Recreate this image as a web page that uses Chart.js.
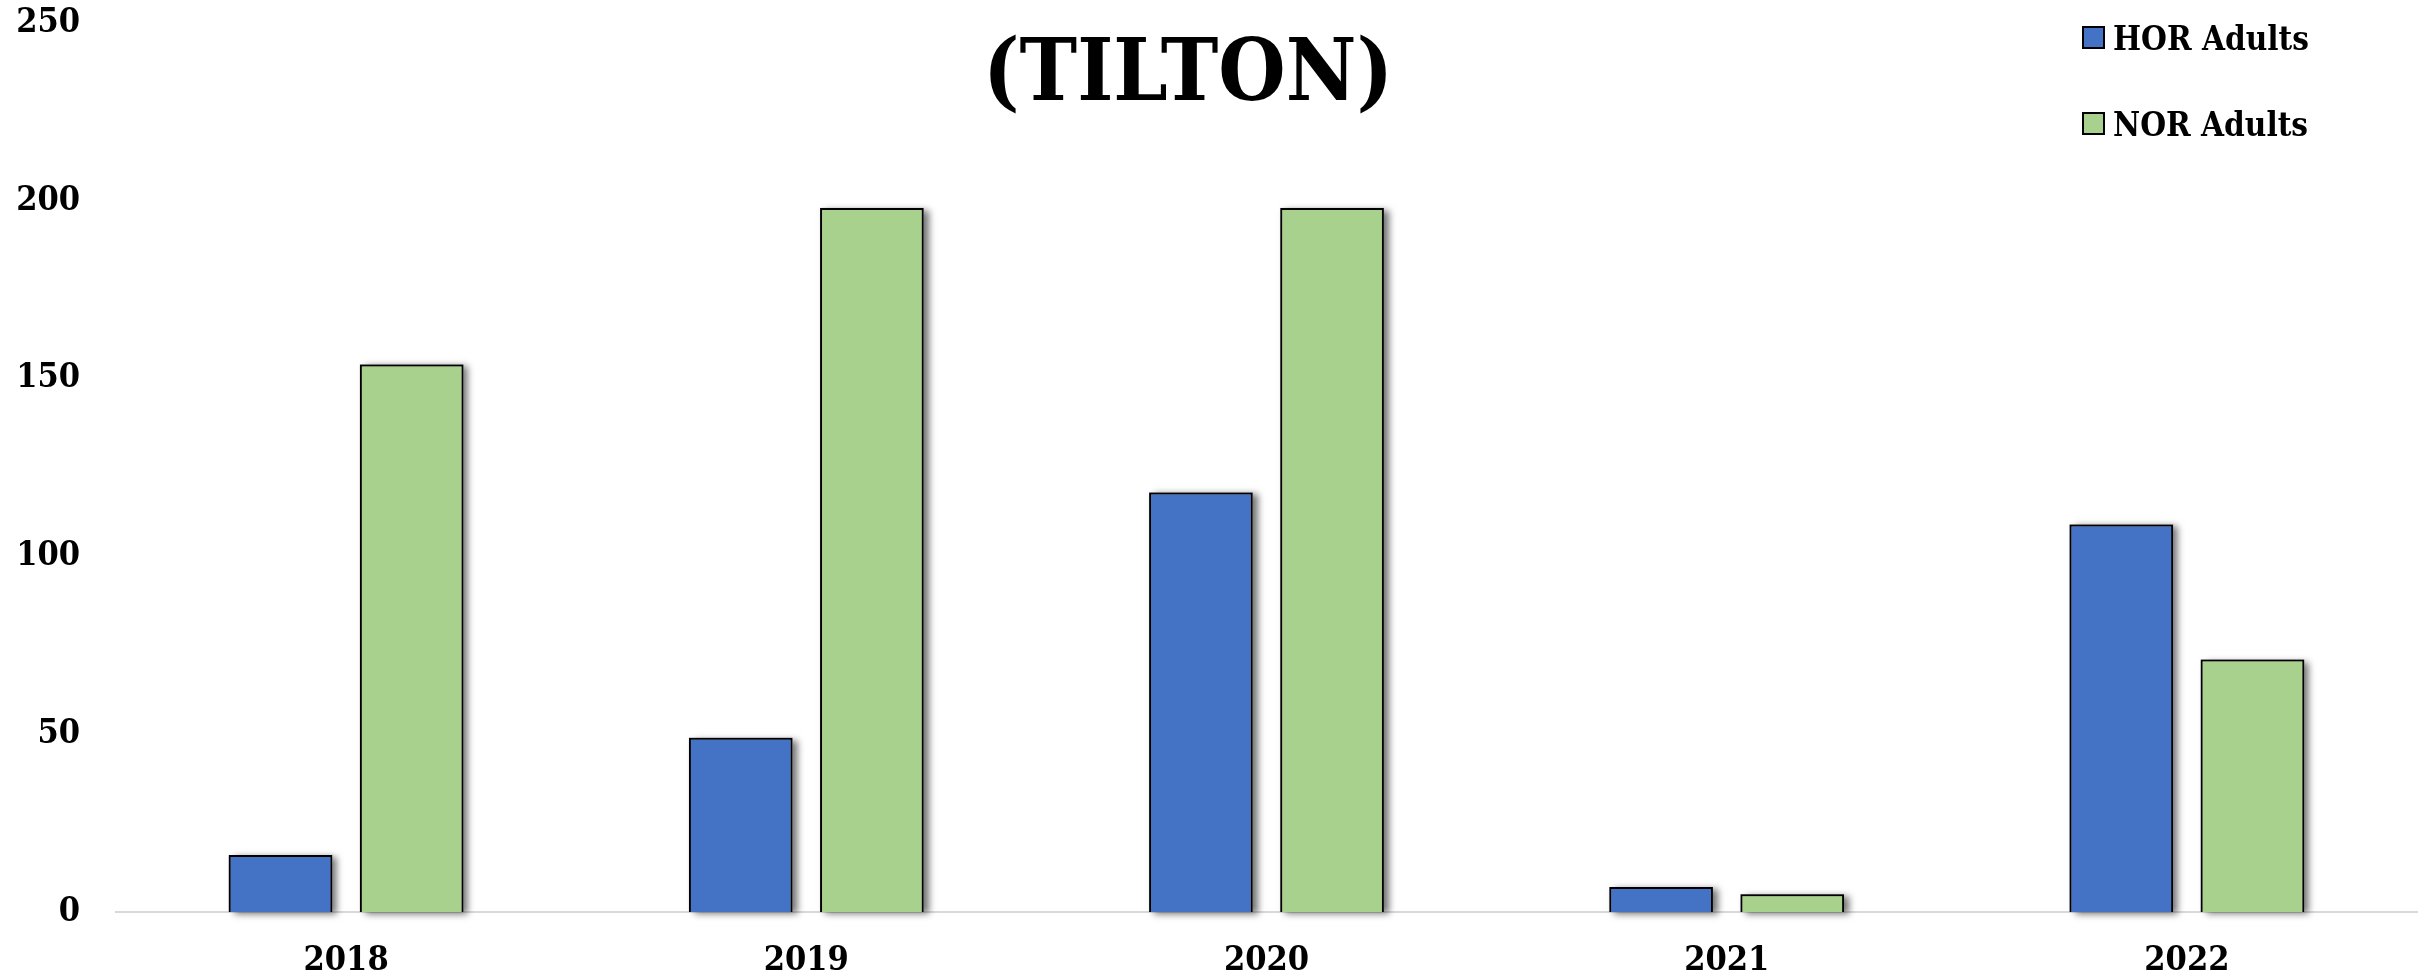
<!DOCTYPE html>
<html>
<head>
<meta charset="utf-8">
<script src="https://cdn.jsdelivr.net/npm/chart.js@4"></script>
<style>
  html, body { margin: 0; padding: 0; background: #fff; }
  #wrap { width: 2423px; height: 980px; }
</style>
</head>
<body>
<div id="wrap"><canvas id="tiltonChart" width="2423" height="980"></canvas></div>
<script>
// Data
const years = ['2018', '2019', '2020', '2021', '2022'];
const horAdults = [16, 49, 118, 7, 109];
const norAdults = [154, 198, 198, 5, 71];
const yMax = 250;
const yStep = 50;

const serif = '"DejaVu Serif Condensed", "Liberation Serif", serif';

// Drop shadow behind the bars (the bar element clips its own drawing,
// so paint the shadows first from the laid-out bar elements)
const barShadow = {
    id: 'barShadow',
    beforeDatasetsDraw(chart) {
        const ctx = chart.ctx;
        ctx.save();
        ctx.shadowColor = 'rgba(0, 0, 0, 0.55)';
        ctx.shadowOffsetX = 5;
        ctx.shadowOffsetY = 2;
        ctx.shadowBlur = 7;
        ctx.fillStyle = '#888';
        chart.data.datasets.forEach((ds, i) => {
            chart.getDatasetMeta(i).data.forEach(bar => {
                const p = bar.getProps(['x', 'y', 'base', 'width'], true);
                ctx.fillRect(p.x - p.width / 2, p.y, p.width, p.base - p.y);
            });
        });
        ctx.restore();
    }
};

// Title and legend sit over the plot, so draw them by hand
const overlay = {
    id: 'overlay',
    afterDraw(chart) {
        const ctx = chart.ctx;
        ctx.save();
        ctx.fillStyle = '#000';
        ctx.font = 'bold 86px ' + serif;
        ctx.textAlign = 'center';
        ctx.textBaseline = 'alphabetic';
        ctx.fillText('(TILTON)', 1188, 100);

        ctx.font = 'bold 33px ' + serif;
        ctx.textAlign = 'left';
        chart.data.datasets.forEach((ds, i) => {
            const top = 27 + i * 86;
            ctx.fillStyle = ds.backgroundColor;
            ctx.fillRect(2083, top, 21, 21);
            ctx.lineWidth = 2;
            ctx.strokeStyle = '#000';
            ctx.strokeRect(2083, top, 21, 21);
            ctx.fillStyle = '#000';
            ctx.fillText(ds.label, 2113, top + 23);
        });
        ctx.restore();
    }
};

new Chart(document.getElementById('tiltonChart'), {
    type: 'bar',
    data: {
        labels: years,
        datasets: [
            {
                label: 'HOR Adults',
                data: horAdults,
                backgroundColor: '#4472C4',
                borderColor: '#000',
                borderWidth: 2
            },
            {
                label: 'NOR Adults',
                data: norAdults,
                backgroundColor: '#A9D18E',
                borderColor: '#000',
                borderWidth: 2
            }
        ]
    },
    options: {
        responsive: false,
        animation: false,
        devicePixelRatio: 1,
        categoryPercentage: 0.57,
        barPercentage: 0.79,
        layout: { padding: { top: 23, right: 6, left: 0, bottom: 0 } },
        plugins: {
            legend: { display: false },
            title: { display: false },
            tooltip: { enabled: false }
        },
        scales: {
            x: {
                grid: { display: false, drawTicks: false },
                border: { display: true, color: '#D9D9D9', width: 2 },
                ticks: {
                    color: '#000',
                    padding: 29,
                    font: { family: serif, size: 34, weight: 'bold' }
                },
                afterFit(scale) { scale.height = 68; }
            },
            y: {
                min: 0,
                max: yMax,
                grid: { display: false, drawTicks: false },
                border: { display: false },
                ticks: {
                    stepSize: yStep,
                    color: '#000',
                    padding: 36,
                    font: { family: serif, size: 34, weight: 'bold' }
                },
                afterFit(scale) {
                    scale.width = 116;
                    scale.paddingTop = 0;
                    scale.paddingBottom = 0;
                }
            }
        }
    },
    plugins: [barShadow, overlay]
});
</script>
</body>
</html>
